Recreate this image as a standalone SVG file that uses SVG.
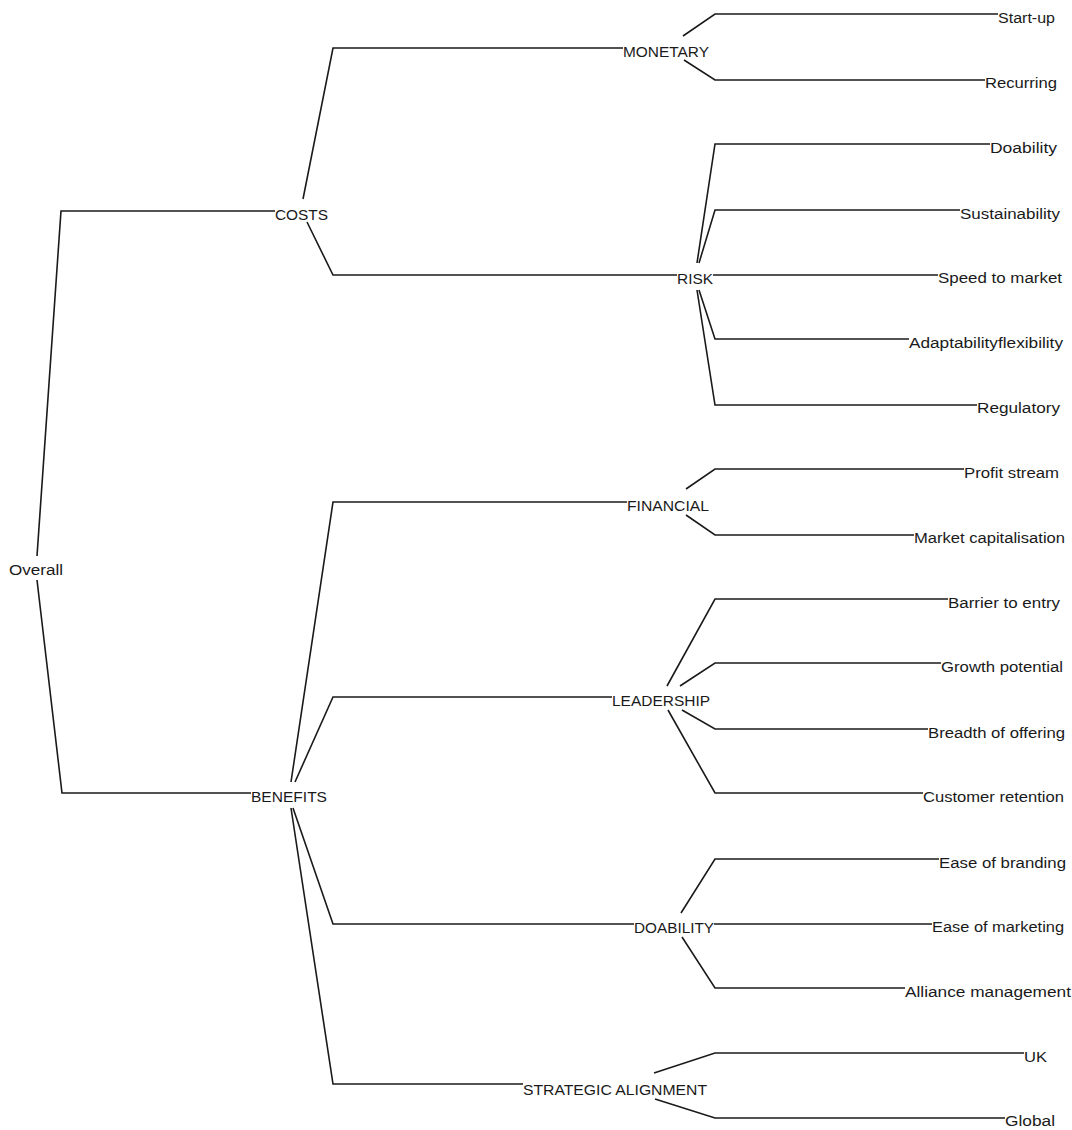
<svg xmlns="http://www.w3.org/2000/svg" width="1072" height="1130" viewBox="0 0 1072 1130">
<style>
.c{fill:none;stroke:#1a1a1a;stroke-width:1.6;stroke-linejoin:miter}
text{font-family:"Liberation Sans",Arial,sans-serif;font-size:14px;fill:#1a1a1a}
</style>
<rect width="1072" height="1130" fill="#ffffff"/>
<g id="connectors">
<polyline class="c" points="37,556 61,211 275,211"/>
<polyline class="c" points="37,580 62,793 251,793"/>
<polyline class="c" points="303,199 333,48 623,48"/>
<polyline class="c" points="307,222 333,275 677,275"/>
<polyline class="c" points="683,36 715,14 998,14"/>
<polyline class="c" points="684,60 715,80 985,80"/>
<polyline class="c" points="697,263 715,144 990,144"/>
<polyline class="c" points="699,263 715,210 960,210"/>
<polyline class="c" points="713,275 938,275"/>
<polyline class="c" points="699,290 715,339 909,339"/>
<polyline class="c" points="697,290 715,405 977,405"/>
<polyline class="c" points="291,782 333,502 627,502"/>
<polyline class="c" points="295,782 333,697 612,697"/>
<polyline class="c" points="293,808 333,924 634,924"/>
<polyline class="c" points="291,808 333,1084 523,1084"/>
<polyline class="c" points="686,489 715,469 964,469"/>
<polyline class="c" points="686,515 715,535 914,535"/>
<polyline class="c" points="667,686 715,599 948,599"/>
<polyline class="c" points="680,686 715,663 941,663"/>
<polyline class="c" points="682,710 715,729 928,729"/>
<polyline class="c" points="668,710 715,793 923,793"/>
<polyline class="c" points="681,913 715,859 939,859"/>
<polyline class="c" points="714,924 932,924"/>
<polyline class="c" points="682,937 715,988 905,988"/>
<polyline class="c" points="654,1073 715,1053 1024,1053"/>
<polyline class="c" points="655,1099 715,1118 1005,1118"/>
</g>
<g id="node-overall"><text x="9" y="575" textLength="54" lengthAdjust="spacingAndGlyphs">Overall</text></g>
<g id="node-costs"><text x="275" y="220" textLength="53" lengthAdjust="spacingAndGlyphs">COSTS</text></g>
<g id="node-benefits"><text x="251" y="802" textLength="76" lengthAdjust="spacingAndGlyphs">BENEFITS</text></g>
<g id="node-monetary"><text x="623" y="57" textLength="86" lengthAdjust="spacingAndGlyphs">MONETARY</text></g>
<g id="node-risk"><text x="677" y="284" textLength="36" lengthAdjust="spacingAndGlyphs">RISK</text></g>
<g id="node-financial"><text x="627" y="511" textLength="82" lengthAdjust="spacingAndGlyphs">FINANCIAL</text></g>
<g id="node-leadership"><text x="612" y="706" textLength="98" lengthAdjust="spacingAndGlyphs">LEADERSHIP</text></g>
<g id="node-doability"><text x="634" y="933" textLength="80" lengthAdjust="spacingAndGlyphs">DOABILITY</text></g>
<g id="node-strategic"><text x="523" y="1095" textLength="184" lengthAdjust="spacingAndGlyphs">STRATEGIC ALIGNMENT</text></g>
<g id="leaf-startup"><text x="998" y="23" textLength="57" lengthAdjust="spacingAndGlyphs">Start-up</text></g>
<g id="leaf-recurring"><text x="985" y="88" textLength="72" lengthAdjust="spacingAndGlyphs">Recurring</text></g>
<g id="leaf-doability"><text x="990" y="153" textLength="67" lengthAdjust="spacingAndGlyphs">Doability</text></g>
<g id="leaf-sustainability"><text x="960" y="219" textLength="100" lengthAdjust="spacingAndGlyphs">Sustainability</text></g>
<g id="leaf-speed"><text x="938" y="283" textLength="124" lengthAdjust="spacingAndGlyphs">Speed to market</text></g>
<g id="leaf-adaptability"><text x="909" y="348" textLength="154" lengthAdjust="spacingAndGlyphs">Adaptabilityflexibility</text></g>
<g id="leaf-regulatory"><text x="977" y="413" textLength="83" lengthAdjust="spacingAndGlyphs">Regulatory</text></g>
<g id="leaf-profit"><text x="964" y="478" textLength="95" lengthAdjust="spacingAndGlyphs">Profit stream</text></g>
<g id="leaf-market"><text x="914" y="543" textLength="151" lengthAdjust="spacingAndGlyphs">Market capitalisation</text></g>
<g id="leaf-barrier"><text x="948" y="608" textLength="112" lengthAdjust="spacingAndGlyphs">Barrier to entry</text></g>
<g id="leaf-growth"><text x="941" y="672" textLength="122" lengthAdjust="spacingAndGlyphs">Growth potential</text></g>
<g id="leaf-breadth"><text x="928" y="738" textLength="137" lengthAdjust="spacingAndGlyphs">Breadth of offering</text></g>
<g id="leaf-customer"><text x="923" y="802" textLength="141" lengthAdjust="spacingAndGlyphs">Customer retention</text></g>
<g id="leaf-branding"><text x="939" y="868" textLength="127" lengthAdjust="spacingAndGlyphs">Ease of branding</text></g>
<g id="leaf-marketing"><text x="932" y="932" textLength="132" lengthAdjust="spacingAndGlyphs">Ease of marketing</text></g>
<g id="leaf-alliance"><text x="905" y="997" textLength="166" lengthAdjust="spacingAndGlyphs">Alliance management</text></g>
<g id="leaf-uk"><text x="1024" y="1062" textLength="23" lengthAdjust="spacingAndGlyphs">UK</text></g>
<g id="leaf-global"><text x="1005" y="1126" textLength="50" lengthAdjust="spacingAndGlyphs">Global</text></g>
</svg>
